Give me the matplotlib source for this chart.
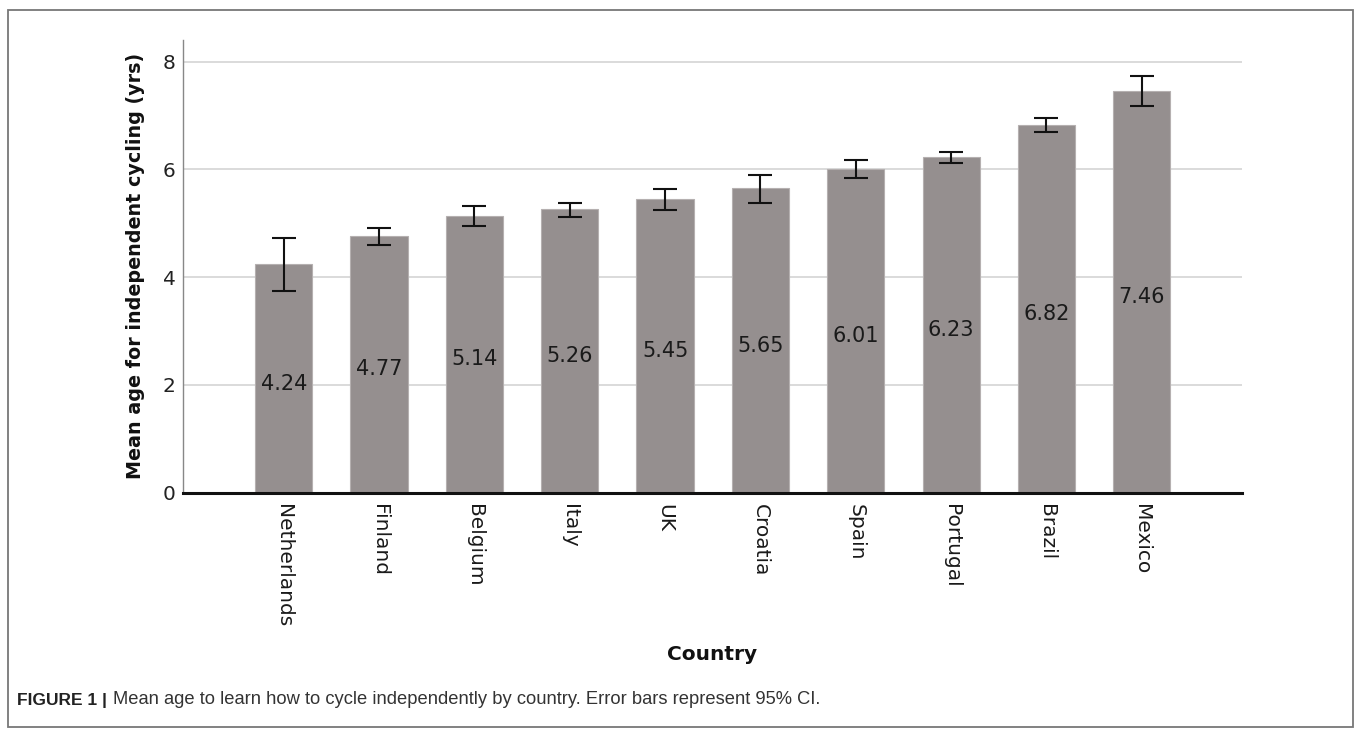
import matplotlib
matplotlib.use("Agg")
import matplotlib.pyplot as plt
from matplotlib.patches import Rectangle
import numpy as np

countries = ["Netherlands", "Finland", "Belgium", "Italy", "UK",
             "Croatia", "Spain", "Portugal", "Brazil", "Mexico"]
means = [4.24, 4.77, 5.14, 5.26, 5.45, 5.65, 6.01, 6.23, 6.82, 7.46]
ci_low = [3.74, 4.60, 4.95, 5.12, 5.24, 5.37, 5.83, 6.12, 6.69, 7.17]
ci_high = [4.72, 4.91, 5.31, 5.37, 5.63, 5.89, 6.17, 6.33, 6.96, 7.74]
yticks = [0, 2, 4, 6, 8]

plt.rcParams['font.family'] = ['DejaVu Sans']

fig = plt.figure(figsize=(13.57, 7.34), dpi=100)
ax = fig.add_axes([0.1346, 0.329, 0.7806, 0.6165])

x = np.arange(len(countries))
means_a = np.array(means)
yerr = np.vstack([means_a - np.array(ci_low), np.array(ci_high) - means_a])

ax.bar(x, means, width=0.6, color="#958f8f", edgecolor="#b5b0b0", linewidth=0.8, zorder=2)
ax.errorbar(x, means, yerr=yerr, fmt="none", ecolor="#111111", elinewidth=1.5,
            capsize=8.6, capthick=1.5, zorder=3)

for xi, m in zip(x, means):
    ax.text(xi, m / 2 - 0.1, f"{m:.2f}", ha="center", va="center",
            fontsize=15, color="#1a1a1a", zorder=4)

ax.set_xlim(-1.06, 10.05)
ax.set_ylim(0, 8.4)
ax.set_yticks(yticks)
ax.set_yticklabels([str(t) for t in yticks], fontsize=14.5, color="#222222")
ax.yaxis.grid(True, color="#d4d4d4", linewidth=1.2, zorder=0)
ax.set_axisbelow(True)
ax.tick_params(axis="y", length=0, pad=5)
ax.set_xticks(x)
ax.set_xticklabels(countries, rotation=-90, fontsize=14.5, color="#1a1a1a", va="top", ha="center")
ax.tick_params(axis="x", length=0, pad=8)

for s in ["top", "right"]:
    ax.spines[s].set_visible(False)
ax.spines["left"].set_color("#888888")
ax.spines["left"].set_linewidth(1.0)
ax.spines["bottom"].set_color("#111111")
ax.spines["bottom"].set_linewidth(2.2)
ax.spines["bottom"].set_zorder(5)

ax.set_ylabel("Mean age for independent cycling (yrs)", fontsize=13.8, fontweight="bold",
              color="#111111", labelpad=13)
fig.text(0.5247, 1 - 655 / 734, "Country", ha="center", va="center", fontsize=14.5,
         fontweight="bold", color="#111111")

# caption
cap_font = ["Liberation Sans", "DejaVu Sans"]
t1 = fig.text(17 / 1357, 1 - 700 / 734, "FIGURE 1 |", ha="left", va="center", fontsize=12.5,
              fontweight="bold", color="#222222", family=cap_font)
ax.annotate("Mean age to learn how to cycle independently by country. Error bars represent 95% CI.",
            xy=(1, 0.5), xycoords=t1, xytext=(4, 0), textcoords="offset points",
            ha="left", va="center", fontsize=13.2, color="#333333", family=cap_font,
            annotation_clip=False)

# frame
fig.patches.append(Rectangle((8 / 1357, 1 - 727 / 734), (1353 - 8) / 1357, (727 - 10) / 734,
                             transform=fig.transFigure, fill=False, edgecolor="#777777",
                             linewidth=1.3))

fig.savefig("out.png", dpi=100)
